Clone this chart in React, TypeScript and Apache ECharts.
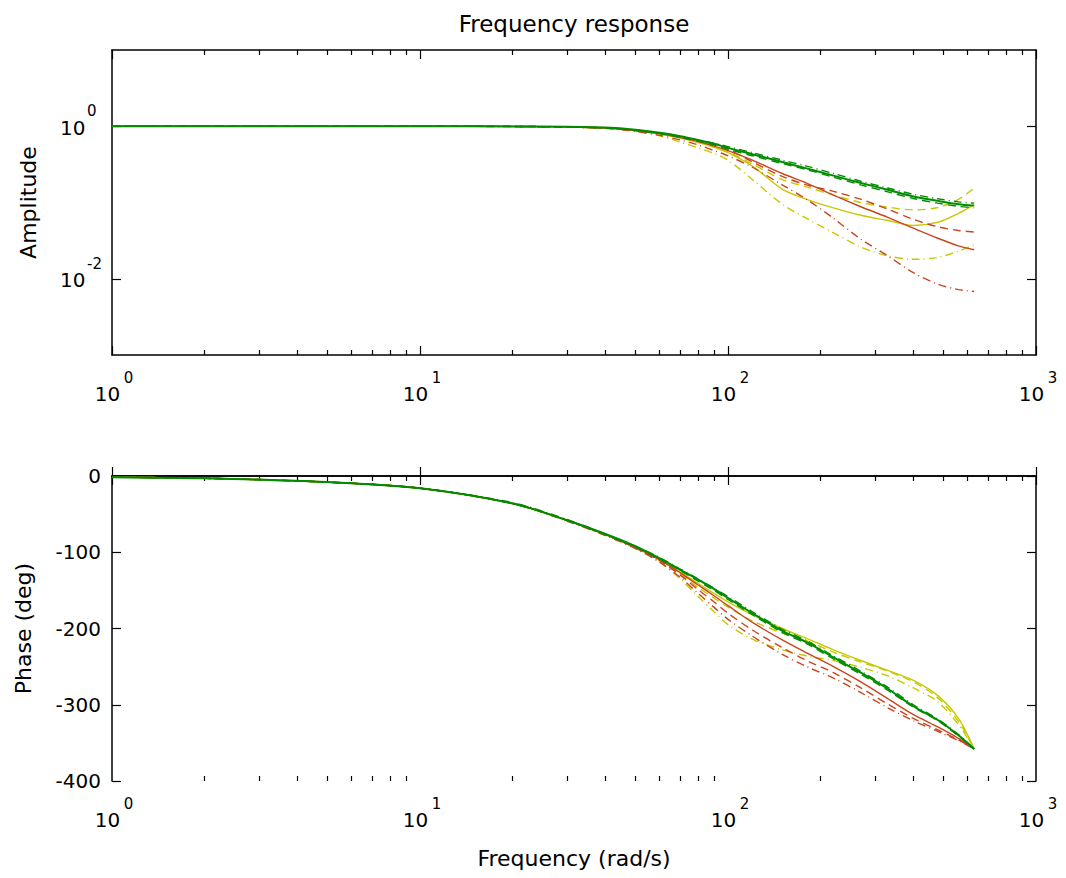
import React, { useEffect, useRef } from 'react';
import * as echarts from 'echarts';

const FONT = 'DejaVu Sans';
const GREEN = '#008c00';
const RED = '#c8461e';
const YELLOW = '#c8c800';

// Frequency samples (rad/s)
const freq = [1, 2, 5, 10, 20, 30, 40, 50, 60, 70, 80, 90, 100, 120, 150, 180, 220, 270, 330, 400, 480, 560, 630];

// Amplitude
const ampGreenSolid = [1, 1, 1, 1, 0.995, 0.985, 0.96, 0.9, 0.82, 0.74, 0.66, 0.59, 0.52, 0.43, 0.34, 0.28, 0.225, 0.18, 0.147, 0.12, 0.105, 0.095, 0.091];
const ampGreenDash = [1, 1, 1, 1, 0.995, 0.98, 0.95, 0.88, 0.8, 0.72, 0.64, 0.57, 0.5, 0.41, 0.325, 0.27, 0.215, 0.17, 0.138, 0.113, 0.098, 0.089, 0.085];
const ampGreenDashDot = [1, 1, 1, 1, 0.99, 0.98, 0.955, 0.89, 0.81, 0.73, 0.66, 0.6, 0.54, 0.45, 0.36, 0.3, 0.24, 0.19, 0.155, 0.128, 0.112, 0.102, 0.098];
const ampRedSolid = [1, 1, 1, 1, 0.995, 0.98, 0.95, 0.88, 0.8, 0.71, 0.63, 0.55, 0.48, 0.36, 0.24, 0.18, 0.125, 0.088, 0.064, 0.046, 0.034, 0.027, 0.024];
const ampRedDash = [1, 1, 1, 1, 0.995, 0.98, 0.955, 0.89, 0.81, 0.72, 0.65, 0.57, 0.5, 0.34, 0.22, 0.17, 0.14, 0.11, 0.082, 0.06, 0.048, 0.043, 0.041];
const ampRedDashDot = [1, 1, 1, 1, 0.995, 0.975, 0.94, 0.86, 0.76, 0.66, 0.57, 0.48, 0.41, 0.29, 0.17, 0.11, 0.062, 0.033, 0.02, 0.012, 0.0085, 0.0072, 0.0068];
const ampYellowSolid = [1, 1, 1, 1, 0.995, 0.98, 0.95, 0.88, 0.79, 0.7, 0.61, 0.53, 0.45, 0.3, 0.15, 0.11, 0.085, 0.068, 0.058, 0.05, 0.055, 0.072, 0.094];
const ampYellowDash = [1, 1, 1, 1, 0.995, 0.98, 0.95, 0.88, 0.8, 0.71, 0.62, 0.54, 0.46, 0.32, 0.2, 0.16, 0.125, 0.1, 0.087, 0.08, 0.086, 0.11, 0.155];
const ampYellowDashDot = [1, 1, 1, 1, 0.995, 0.975, 0.94, 0.86, 0.75, 0.62, 0.52, 0.44, 0.36, 0.2, 0.095, 0.062, 0.04, 0.026, 0.02, 0.018, 0.019, 0.023, 0.028];

// Phase (deg)
const phGreenSolid = [-1.5, -3, -8, -16, -36, -58, -76, -92, -108, -123, -136, -148, -160, -180, -203, -218, -238, -258, -279, -302, -320, -340, -358];
const phGreenDash = [-1.5, -3, -8, -16, -36, -58, -77, -93, -109, -124, -138, -150, -162, -182, -205, -220, -240, -260, -281, -303, -321, -341, -358];
const phGreenDashDot = [-1.5, -3, -8, -16, -35, -57, -76, -92, -107, -122, -135, -147, -158, -178, -201, -216, -236, -256, -277, -300, -319, -339, -358];
const phRedSolid = [-1.5, -3, -8, -16, -36, -58, -77, -94, -110, -127, -143, -157, -170, -192, -215, -232, -250, -270, -292, -313, -329, -344, -358];
const phRedDash = [-1.5, -3, -8, -16, -36, -58, -77, -94, -111, -130, -149, -165, -180, -202, -225, -242, -258, -278, -299, -318, -333, -346, -358];
const phRedDashDot = [-1.5, -3, -8, -16, -36, -59, -78, -95, -113, -133, -154, -172, -188, -210, -234, -250, -265, -284, -304, -321, -335, -347, -358];
const phYellowSolid = [-1.5, -3, -8, -16, -36, -58, -77, -93, -110, -126, -141, -154, -165, -182, -200, -213, -228, -242, -255, -268, -288, -318, -358];
const phYellowDash = [-1.5, -3, -8, -16, -36, -58, -77, -94, -111, -129, -146, -160, -172, -190, -206, -216, -231, -244, -256, -270, -291, -322, -358];
const phYellowDashDot = [-1.5, -3, -8, -16, -36, -59, -78, -95, -113, -135, -158, -178, -195, -214, -228, -236, -242, -251, -262, -278, -296, -326, -358];

// Axis ticks
const majorX = [1, 10, 100, 1000];
const minorX = [2, 3, 4, 5, 6, 7, 8, 9, 20, 30, 40, 50, 60, 70, 80, 90, 200, 300, 400, 500, 600, 700, 800, 900];
const ampTicks = [1, 0.01];

const DASH = [8, 5];
const DASHDOT = [8, 4, 1, 4];

const lines = [
  { color: YELLOW, type: DASHDOT, width: 1.4, amp: ampYellowDashDot, ph: phYellowDashDot },
  { color: YELLOW, type: DASH, width: 1.4, amp: ampYellowDash, ph: phYellowDash },
  { color: YELLOW, type: 'solid', width: 1.4, amp: ampYellowSolid, ph: phYellowSolid },
  { color: RED, type: DASHDOT, width: 1.4, amp: ampRedDashDot, ph: phRedDashDot },
  { color: RED, type: DASH, width: 1.4, amp: ampRedDash, ph: phRedDash },
  { color: RED, type: 'solid', width: 1.4, amp: ampRedSolid, ph: phRedSolid },
  { color: GREEN, type: DASHDOT, width: 1.4, amp: ampGreenDashDot, ph: phGreenDashDot },
  { color: GREEN, type: DASH, width: 1.4, amp: ampGreenDash, ph: phGreenDash },
  { color: GREEN, type: 'solid', width: 2, amp: ampGreenSolid, ph: phGreenSolid },
];

const pairs = (arr: number[]) => freq.map((f, i) => [f, arr[i]]);

// Power-of-ten labels: exponent on a first (raised) line, "10" on the second line
const xRich = {
  e: { fontFamily: FONT, fontSize: 15, lineHeight: 13, padding: [0, 0, 0, 33], color: '#000' },
  b: { fontFamily: FONT, fontSize: 20, lineHeight: 20, padding: [0, 9, 0, 0], color: '#000' },
};
const yRich = {
  e: { fontFamily: FONT, fontSize: 15, lineHeight: 13, padding: [0, 0, 0, 27], color: '#000' },
  b: { fontFamily: FONT, fontSize: 20, lineHeight: 20, color: '#000' },
};
const powFmt = (v: number) => `{e|${Math.round(Math.log10(v))}}\n{b|10}`;

const axisLine = { show: true, lineStyle: { color: '#000', width: 1.5 } };
const tickStyle = { color: '#000', width: 1.2 };

function xAxes(grid: number, name?: string) {
  const base = { type: 'log', logBase: 10, min: 1, max: 1000, gridIndex: grid, splitLine: { show: false } };
  const g2 = grid + 1;
  return [
    {
      ...base,
      position: 'bottom',
      axisLine,
      axisTick: { show: true, inside: true, length: 9, customValues: majorX, lineStyle: tickStyle },
      axisLabel: { show: true, customValues: majorX, margin: 16, formatter: powFmt, rich: xRich },
      name,
      nameLocation: 'middle',
      nameGap: 66,
      nameTextStyle: { fontFamily: FONT, fontSize: 22, color: '#000' },
    },
    {
      ...base,
      position: 'top',
      axisLine,
      axisTick: { show: true, inside: true, length: 9, customValues: majorX, lineStyle: tickStyle },
      axisLabel: { show: false },
    },
    {
      ...base,
      gridIndex: g2,
      position: 'bottom',
      axisLine: { show: false },
      axisTick: { show: true, inside: true, length: 5, customValues: minorX, lineStyle: tickStyle },
      axisLabel: { show: false },
    },
    {
      ...base,
      gridIndex: g2,
      position: 'top',
      axisLine: { show: false },
      axisTick: { show: true, inside: true, length: 5, customValues: minorX, lineStyle: tickStyle },
      axisLabel: { show: false },
    },
  ];
}

export default function App() {
  const ref = useRef<HTMLDivElement>(null);
  useEffect(() => {
    if (!ref.current) return;
    const chart = echarts.init(ref.current, undefined, { renderer: 'svg' });
    const gridBox = { left: 112, width: 924, height: 305 };
    const series: any[] = [];
    lines.forEach((l) => {
      series.push({
        type: 'line',
        xAxisIndex: 0,
        yAxisIndex: 0,
        data: pairs(l.amp),
        showSymbol: false,
        smooth: 0.3,
        lineStyle: { color: l.color, width: l.width, type: l.type },
        itemStyle: { color: l.color },
        z: 3,
      });
      series.push({
        type: 'line',
        xAxisIndex: 4,
        yAxisIndex: 3,
        data: pairs(l.ph),
        showSymbol: false,
        smooth: 0.3,
        lineStyle: { color: l.color, width: l.width, type: l.type },
        itemStyle: { color: l.color },
        z: 3,
      });
    });
    chart.setOption({
      animation: false,
      backgroundColor: '#fff',
      textStyle: { fontFamily: FONT },
      graphic: [
        {
          type: 'text',
          x: 574,
          y: 24,
          style: {
            text: 'Frequency response',
            fontFamily: FONT,
            fontSize: 23,
            fill: '#000',
            textAlign: 'center',
            textVerticalAlign: 'middle',
          },
        },
      ],
      grid: [
        { ...gridBox, top: 50 },
        { ...gridBox, top: 50 },
        { ...gridBox, top: 476 },
        { ...gridBox, top: 476 },
      ],
      xAxis: [...xAxes(0), ...xAxes(2, 'Frequency (rad/s)')],
      yAxis: [
        {
          type: 'log',
          logBase: 10,
          gridIndex: 0,
          min: 0.001,
          max: 10,
          position: 'left',
          axisLine,
          splitLine: { show: false },
          axisTick: { show: true, inside: true, length: 9, customValues: ampTicks, lineStyle: tickStyle },
          axisLabel: {
            show: true,
            customValues: ampTicks,
            align: 'left',
            margin: 52,
            padding: [0, 0, 10, 0],
            formatter: powFmt,
            rich: yRich,
          },
          name: 'Amplitude',
          nameLocation: 'middle',
          nameGap: 73,
          nameTextStyle: { fontFamily: FONT, fontSize: 22, color: '#000' },
        },
        {
          type: 'log',
          logBase: 10,
          gridIndex: 0,
          min: 0.001,
          max: 10,
          position: 'right',
          axisLine,
          splitLine: { show: false },
          axisTick: { show: true, inside: true, length: 9, customValues: ampTicks, lineStyle: tickStyle },
          axisLabel: { show: false },
        },
        { type: 'value', gridIndex: 1, show: false },
        {
          type: 'value',
          gridIndex: 2,
          min: -400,
          max: 0,
          interval: 100,
          position: 'left',
          axisLine,
          splitLine: { show: false },
          axisTick: { show: true, inside: true, length: 9, lineStyle: tickStyle },
          axisLabel: { show: true, margin: 11, fontFamily: FONT, fontSize: 20, color: '#000' },
          name: 'Phase (deg)',
          nameLocation: 'middle',
          nameGap: 78,
          nameTextStyle: { fontFamily: FONT, fontSize: 22, color: '#000' },
        },
        {
          type: 'value',
          gridIndex: 2,
          min: -400,
          max: 0,
          interval: 100,
          position: 'right',
          axisLine,
          splitLine: { show: false },
          axisTick: { show: true, inside: true, length: 9, lineStyle: tickStyle },
          axisLabel: { show: false },
        },
        { type: 'value', gridIndex: 3, show: false },
      ],
      series,
    });
    return () => chart.dispose();
  }, []);
  return (
    <div
      ref={ref}
      style={{ position: 'fixed', left: 0, top: 0, width: 1066, height: 878, background: '#fff' }}
    />
  );
}
